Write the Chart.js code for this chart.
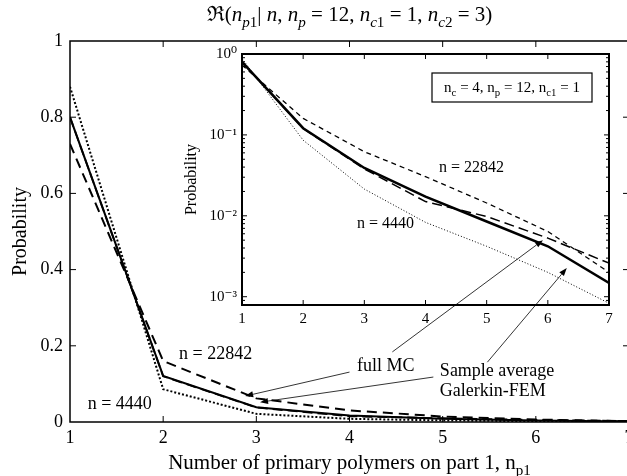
<!DOCTYPE html>
<html>
<head>
<meta charset="utf-8">
<script src="https://cdn.jsdelivr.net/npm/chart.js@4.4.1/dist/chart.umd.min.js"></script>
<style>
html, body { margin: 0; padding: 0; background: #fff; overflow: hidden; width: 627px; height: 476px; }
#wrap { position: relative; width: 627px; height: 476px; overflow: hidden; }
canvas { position: absolute; left: 0; top: 0; }
</style>
</head>
<body>
<div id="wrap">
  <canvas id="mainChart" width="640" height="476"></canvas>
  <canvas id="insetChart" width="627" height="476"></canvas>
</div>
<script>
// number of primary polymers on part 1
const npValues = [1, 2, 3, 4, 5, 6, 7];
// probabilities
const fullMC   = [0.80, 0.121, 0.039, 0.0173, 0.0085, 0.0042, 0.00148];
const galerkin = [0.80, 0.120, 0.038, 0.0150, 0.0098, 0.0053, 0.0026];
const n22842   = [0.73, 0.160, 0.062, 0.0305, 0.0144, 0.0064, 0.0020];
const n4440    = [0.88, 0.086, 0.0214, 0.0083, 0.0042, 0.0020, 0.00083];

const mainYTicks = [0, 0.2, 0.4, 0.6, 0.8, 1];
const insetDecades = [0.001, 0.01, 0.1, 1];
const decadeLabels = ['10\u207B\u00B3', '10\u207B\u00B2', '10\u207B\u00B9', '10\u2070'];

const SERIF = "'Liberation Serif','DejaVu Serif',serif";

function pts(arr) {
  return npValues.map((x, i) => ({ x: x, y: arr[i] }));
}

function richText(ctx, segs, x, y, size, align) {
  const font = s => (s.i ? 'italic ' : '') + (s.s ? size * 0.72 : size) + 'px ' + SERIF;
  let w = 0;
  segs.forEach(s => { ctx.font = font(s); w += ctx.measureText(s.t).width; });
  let cx = align === 'center' ? x - w / 2 : x;
  ctx.textAlign = 'left';
  ctx.textBaseline = 'alphabetic';
  segs.forEach(s => {
    ctx.font = font(s);
    ctx.fillText(s.t, cx, y + (s.s ? size * 0.28 : 0));
    cx += ctx.measureText(s.t).width;
  });
}

function drawFrame(chart, lw, xTicks, yTicks, len, minorY) {
  const ctx = chart.ctx, a = chart.chartArea, xs = chart.scales.x, ys = chart.scales.y;
  ctx.save();
  ctx.strokeStyle = '#000';
  ctx.lineWidth = 1;
  ctx.beginPath();
  xTicks.forEach(v => {
    const p = xs.getPixelForValue(v);
    ctx.moveTo(p, a.bottom); ctx.lineTo(p, a.bottom - len);
    ctx.moveTo(p, a.top); ctx.lineTo(p, a.top + len);
  });
  yTicks.forEach(v => {
    const p = ys.getPixelForValue(v);
    ctx.moveTo(a.left, p); ctx.lineTo(a.left + len, p);
    ctx.moveTo(a.right, p); ctx.lineTo(a.right - len, p);
  });
  (minorY || []).forEach(v => {
    const p = ys.getPixelForValue(v);
    ctx.moveTo(a.left, p); ctx.lineTo(a.left + len * 0.6, p);
    ctx.moveTo(a.right, p); ctx.lineTo(a.right - len * 0.6, p);
  });
  ctx.stroke();
  ctx.lineWidth = lw;
  ctx.strokeRect(a.left, a.top, a.right - a.left, a.bottom - a.top);
  ctx.restore();
}

function arrow(ctx, x1, y1, x2, y2) {
  const ang = Math.atan2(y2 - y1, x2 - x1), L = 8, W = 3;
  ctx.beginPath();
  ctx.moveTo(x1, y1);
  ctx.lineTo(x2 - L * Math.cos(ang), y2 - L * Math.sin(ang));
  ctx.stroke();
  ctx.beginPath();
  ctx.moveTo(x2, y2);
  ctx.lineTo(x2 - L * Math.cos(ang) + W * Math.sin(ang), y2 - L * Math.sin(ang) - W * Math.cos(ang));
  ctx.lineTo(x2 - L * Math.cos(ang) - W * Math.sin(ang), y2 - L * Math.sin(ang) + W * Math.cos(ang));
  ctx.closePath();
  ctx.fill();
}

const mainDecor = {
  id: 'mainDecor',
  beforeDraw(chart) {
    const ctx = chart.ctx;
    ctx.save();
    ctx.fillStyle = '#fff';
    ctx.fillRect(0, 0, chart.width, chart.height);
    ctx.restore();
  },
  afterDraw(chart) {
    const ctx = chart.ctx, a = chart.chartArea, xs = chart.scales.x, ys = chart.scales.y;
    drawFrame(chart, 1.5, [2, 3, 4, 5, 6], [0.2, 0.4, 0.6, 0.8], 6);
    ctx.save();
    ctx.fillStyle = '#000';
    const cx = (a.left + a.right) / 2;
    // title
    richText(ctx, [
      { t: '\u211C(' }, { t: 'n', i: 1 }, { t: 'p', i: 1, s: 1 }, { t: '1', s: 1 }, { t: '| ' },
      { t: 'n', i: 1 }, { t: ', ' }, { t: 'n', i: 1 }, { t: 'p', i: 1, s: 1 }, { t: ' = 12, ' },
      { t: 'n', i: 1 }, { t: 'c', i: 1, s: 1 }, { t: '1', s: 1 }, { t: ' = 1, ' },
      { t: 'n', i: 1 }, { t: 'c', i: 1, s: 1 }, { t: '2', s: 1 }, { t: ' = 3)' }
    ], cx, 21, 21, 'center');
    // x axis title
    richText(ctx, [
      { t: 'Number of primary polymers on part 1, n' }, { t: 'p1', s: 1 }
    ], cx, 469, 21, 'center');
    // annotations
    richText(ctx, [{ t: 'n = 22842' }], xs.getPixelForValue(2.17), ys.getPixelForValue(0.181) + 6, 18, 'left');
    richText(ctx, [{ t: 'n = 4440' }], xs.getPixelForValue(1.19), ys.getPixelForValue(0.050) + 6, 18, 'left');
    richText(ctx, [{ t: 'full MC' }], xs.getPixelForValue(4.08), ys.getPixelForValue(0.150) + 6, 18, 'left');
    richText(ctx, [{ t: 'Sample average' }], xs.getPixelForValue(4.97), ys.getPixelForValue(0.136) + 6, 18, 'left');
    richText(ctx, [{ t: 'Galerkin-FEM' }], xs.getPixelForValue(4.97), ys.getPixelForValue(0.084) + 6, 18, 'left');
    ctx.restore();
  }
};

const mainChart = new Chart(document.getElementById('mainChart'), {
  type: 'line',
  data: {
    datasets: [
      { label: 'full MC', data: pts(fullMC), borderColor: '#000', borderWidth: 2, pointRadius: 0 },
      { label: 'Galerkin-FEM', data: pts(galerkin), borderColor: '#000', borderWidth: 1.8, borderDash: [10, 5], pointRadius: 0 },
      { label: 'n = 22842', data: pts(n22842), borderColor: '#000', borderWidth: 2, borderDash: [10, 6], pointRadius: 0 },
      { label: 'n = 4440', data: pts(n4440), borderColor: '#000', borderWidth: 2, borderDash: [2, 2], pointRadius: 0 }
    ]
  },
  options: {
    responsive: false,
    animation: false,
    layout: { padding: { top: 41, right: 11, left: 0, bottom: 0 } },
    plugins: { legend: { display: false }, tooltip: { enabled: false } },
    scales: {
      x: {
        type: 'linear', min: 1, max: 7,
        ticks: { stepSize: 1, color: '#000', padding: 5, maxRotation: 0, font: { family: SERIF, size: 18 } },
        grid: { display: false, tickLength: 0 }, border: { display: false },
        afterFit(s) { s.height = 54; s.paddingLeft = 0; s.paddingRight = 0; }
      },
      y: {
        min: 0, max: 1,
        afterBuildTicks(s) { s.ticks = mainYTicks.map(v => ({ value: v })); },
        ticks: { color: '#000', padding: 7, font: { family: SERIF, size: 18 }, callback: v => String(v) },
        title: { display: true, text: 'Probability', color: '#000', padding: { top: 9, bottom: 0 }, font: { family: SERIF, size: 20 } },
        grid: { display: false, tickLength: 0 }, border: { display: false },
        afterFit(s) { s.width = 70; s.paddingTop = 0; s.paddingBottom = 0; }
      }
    }
  },
  plugins: [mainDecor]
});

const insetDecor = {
  id: 'insetDecor',
  beforeDraw(chart) {
    const ctx = chart.ctx, a = chart.chartArea;
    ctx.save();
    ctx.fillStyle = '#fff';
    ctx.fillRect(a.left, a.top, a.right - a.left, a.bottom - a.top);
    ctx.restore();
  },
  afterDraw(chart) {
    const ctx = chart.ctx, xs = chart.scales.x, ys = chart.scales.y;
    const minor = [];
    [0.0001, 0.001, 0.01, 0.1].forEach(d => {
      for (let m = 2; m <= 9; m++) {
        const v = m * d;
        if (v > ys.min && v < ys.max) minor.push(v);
      }
    });
    drawFrame(chart, 2, [2, 3, 4, 5, 6], [0.001, 0.01, 0.1], 5, minor);
    ctx.save();
    ctx.fillStyle = '#000';
    // parameter box
    ctx.lineWidth = 1.2;
    ctx.strokeRect(432, 73, 160, 29);
    richText(ctx, [
      { t: 'n' }, { t: 'c', s: 1 }, { t: ' = 4, n' }, { t: 'p', s: 1 }, { t: ' = 12, n' }, { t: 'c1', s: 1 }, { t: ' = 1' }
    ], 512, 92, 15, 'center');
    richText(ctx, [{ t: 'n = 22842' }], xs.getPixelForValue(4.22), ys.getPixelForValue(0.040) + 5, 16, 'left');
    richText(ctx, [{ t: 'n = 4440' }], xs.getPixelForValue(2.88), ys.getPixelForValue(0.0081) + 5, 16, 'left');
    // arrows from the main labels
    const mx = mainChart.scales.x, my = mainChart.scales.y;
    ctx.strokeStyle = '#000';
    ctx.lineWidth = 0.8;
    arrow(ctx, mx.getPixelForValue(4.00), my.getPixelForValue(0.131), mx.getPixelForValue(2.88), my.getPixelForValue(0.068));
    arrow(ctx, mx.getPixelForValue(4.46), my.getPixelForValue(0.184), xs.getPixelForValue(5.92), ys.getPixelForValue(0.0050));
    arrow(ctx, mx.getPixelForValue(4.90), my.getPixelForValue(0.118), mx.getPixelForValue(3.04), my.getPixelForValue(0.052));
    arrow(ctx, mx.getPixelForValue(5.48), my.getPixelForValue(0.157), xs.getPixelForValue(6.31), ys.getPixelForValue(0.00226));
    ctx.restore();
  }
};

const insetChart = new Chart(document.getElementById('insetChart'), {
  type: 'line',
  data: {
    datasets: [
      { label: 'full MC', data: pts(fullMC), borderColor: '#000', borderWidth: 2.5, pointRadius: 0 },
      { label: 'Galerkin-FEM', data: pts(galerkin), borderColor: '#000', borderWidth: 1.5, borderDash: [10, 5], pointRadius: 0 },
      { label: 'n = 22842', data: pts(n22842), borderColor: '#000', borderWidth: 1.3, borderDash: [5, 4], pointRadius: 0 },
      { label: 'n = 4440', data: pts(n4440), borderColor: '#000', borderWidth: 1, borderDash: [1, 2], pointRadius: 0 }
    ]
  },
  options: {
    responsive: false,
    animation: false,
    layout: { padding: { top: 54, right: 18, left: 180, bottom: 131 } },
    plugins: { legend: { display: false }, tooltip: { enabled: false } },
    scales: {
      x: {
        type: 'linear', min: 1, max: 7,
        ticks: { stepSize: 1, color: '#000', padding: 5, maxRotation: 0, font: { family: SERIF, size: 15 } },
        grid: { display: false, tickLength: 0 }, border: { display: false },
        afterFit(s) { s.height = 40; s.paddingLeft = 0; s.paddingRight = 0; }
      },
      y: {
        type: 'logarithmic', min: 0.00079, max: 1,
        afterBuildTicks(s) { s.ticks = insetDecades.map(v => ({ value: v, major: true })); },
        ticks: { color: '#000', padding: 5, font: { family: SERIF, size: 15 }, callback: (v, i) => decadeLabels[i] },
        title: { display: true, text: 'Probability', color: '#000', padding: { top: 2, bottom: 0 }, font: { family: SERIF, size: 16 } },
        grid: { display: false, tickLength: 0 }, border: { display: false },
        afterFit(s) { s.width = 62; s.paddingTop = 0; s.paddingBottom = 0; }
      }
    }
  },
  plugins: [insetDecor]
});
</script>
</body>
</html>
